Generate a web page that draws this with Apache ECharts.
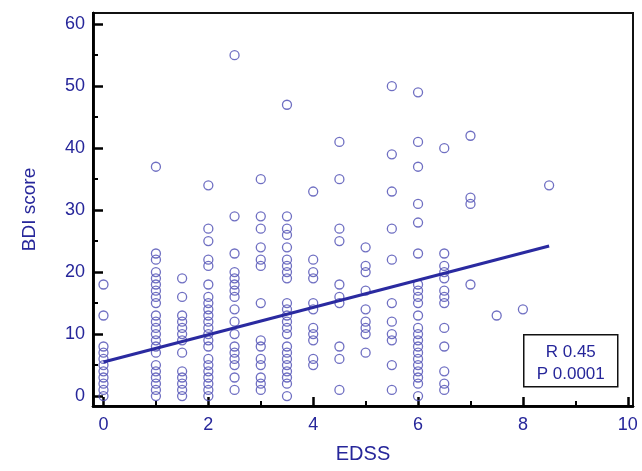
<!DOCTYPE html>
<html>
<head>
<meta charset="utf-8">
<script src="https://cdn.jsdelivr.net/npm/echarts@6/dist/echarts.min.js"></script>
<style>
  html, body { margin: 0; padding: 0; background: #fff; }
  #mainView { width: 642px; height: 471px; }
</style>
</head>
<body>
<div id="mainView"></div>
<script>
// BDI scores, grouped by EDSS step
var edssSteps = [0, 1, 1.5, 2, 2.5, 3, 3.5, 4, 4.5, 5, 5.5, 6, 6.5, 7, 7.5, 8, 8.5];
var bdiByStep = [
    [18, 13, 8, 7, 6, 5, 4, 3, 2, 1, 0],
    [37, 23, 22, 20, 19, 18, 17, 16, 15, 13, 12, 11, 10, 9, 8, 7, 5, 4, 3, 2, 1, 0],
    [19, 16, 13, 12, 11, 10, 9, 7, 4, 3, 2, 1, 0],
    [34, 27, 25, 22, 21, 18, 16, 15, 14, 13, 12, 11, 10, 9, 8, 6, 5, 4, 3, 2, 1, 0],
    [55, 29, 23, 20, 19, 18, 17, 16, 14, 12, 10, 8, 7, 6, 5, 3, 1],
    [35, 29, 27, 24, 22, 21, 15, 9, 8, 6, 5, 3, 2, 1],
    [47, 29, 27, 26, 24, 22, 21, 20, 19, 15, 14, 13, 12, 11, 10, 8, 7, 6, 5, 4, 3, 2, 0],
    [33, 22, 20, 19, 15, 14, 11, 10, 9, 6, 5],
    [41, 35, 27, 25, 18, 16, 15, 8, 6, 1],
    [24, 21, 20, 17, 14, 12, 11, 10, 7],
    [50, 39, 33, 27, 22, 15, 12, 10, 9, 5, 1],
    [49, 41, 37, 31, 28, 23, 18, 17, 16, 15, 13, 11, 10, 9, 8, 7, 6, 5, 4, 3, 2, 0],
    [40, 23, 21, 20, 19, 17, 16, 15, 11, 8, 4, 2, 1],
    [42, 32, 31, 18],
    [13],
    [14],
    [34]
];
// regression line end points
var fitEdss = [0, 8.5];
var fitBdi = [5.5, 24.2];

var xLabels = [0, 2, 4, 6, 8, 10];
var xMinor = [1, 3, 5, 7, 9];
var yLabels = [0, 10, 20, 30, 40, 50, 60];
var yMinor = [5, 15, 25, 35, 45, 55];

var textBlue = '#26269a';
var font = 'Liberation Sans, Arial, sans-serif';

function showMainView() {
    var points = [];
    for (var i = 0; i < edssSteps.length; i++) {
        for (var j = 0; j < bdiByStep[i].length; j++) {
            points.push([edssSteps[i], bdiByStep[i][j]]);
        }
    }
    var fitLine = [];
    for (var k = 0; k < fitEdss.length; k++) {
        fitLine.push([fitEdss[k], fitBdi[k]]);
    }

    var plotBox = { left: 93, right: 9, top: 13, bottom: 65 };

    var chart = echarts.init(document.getElementById('mainView'));
    chart.setOption({
        animation: false,
        grid: [
            {
                left: plotBox.left, right: plotBox.right, top: plotBox.top, bottom: plotBox.bottom,
                show: true,
                borderColor: '#111',
                borderWidth: 2
            },
            // second grid, same box, only carries the short minor ticks
            { left: plotBox.left, right: plotBox.right, top: plotBox.top, bottom: plotBox.bottom }
        ],
        xAxis: [
            {
                type: 'value',
                min: -0.2, max: 10.1,
                name: 'EDSS',
                nameLocation: 'middle',
                nameGap: 38,
                nameTextStyle: { color: textBlue, fontSize: 20, fontFamily: font },
                axisLine: { onZero: false, lineStyle: { color: '#000', width: 2.5 } },
                axisTick: { show: true, inside: true, length: 9, lineStyle: { color: '#000', width: 2.5 }, customValues: xLabels },
                axisLabel: { color: textBlue, fontSize: 18, fontFamily: font, margin: 10, customValues: xLabels },
                splitLine: { show: false }
            },
            {
                type: 'value',
                gridIndex: 1,
                min: -0.2, max: 10.1,
                axisLine: { onZero: false, lineStyle: { color: '#000', width: 2.5 } },
                axisTick: { show: true, inside: true, length: 5, lineStyle: { color: '#000', width: 2 }, customValues: xMinor },
                axisLabel: { show: false },
                splitLine: { show: false }
            }
        ],
        yAxis: [
            {
                type: 'value',
                min: -1.6, max: 61.8,
                name: 'BDI score',
                nameLocation: 'middle',
                nameGap: 54,
                nameTextStyle: { color: textBlue, fontSize: 19, fontFamily: font },
                axisLine: { onZero: false, lineStyle: { color: '#000', width: 2.5 } },
                axisTick: { show: true, inside: true, length: 10, lineStyle: { color: '#000', width: 2.5 }, customValues: yLabels },
                axisLabel: { color: textBlue, fontSize: 18, fontFamily: font, margin: 8, customValues: yLabels },
                splitLine: { show: false }
            },
            {
                type: 'value',
                gridIndex: 1,
                min: -1.6, max: 61.8,
                axisLine: { onZero: false, lineStyle: { color: '#000', width: 2.5 } },
                axisTick: { show: true, inside: true, length: 5, lineStyle: { color: '#000', width: 2 }, customValues: yMinor },
                axisLabel: { show: false },
                splitLine: { show: false }
            }
        ],
        series: [
            {
                type: 'scatter',
                data: points,
                symbol: 'circle',
                symbolSize: 9,
                itemStyle: {
                    color: 'rgba(0,0,0,0)',
                    borderColor: '#4b4bb3',
                    borderWidth: 1.3
                },
                silent: true
            },
            {
                type: 'line',
                data: fitLine,
                showSymbol: false,
                lineStyle: { color: '#2a2aa0', width: 3 },
                silent: true
            }
        ],
        graphic: [
            {
                type: 'group',
                left: 523,
                top: 334,
                children: [
                    {
                        type: 'rect',
                        shape: { x: 0, y: 0, width: 94, height: 52 },
                        style: { fill: '#fff', stroke: '#111', lineWidth: 1.5 }
                    },
                    {
                        type: 'text',
                        x: 47, y: 18,
                        style: { text: 'R 0.45', fill: textBlue, font: '17px ' + font, textAlign: 'center', textVerticalAlign: 'middle' }
                    },
                    {
                        type: 'text',
                        x: 47, y: 40,
                        style: { text: 'P 0.0001', fill: textBlue, font: '17px ' + font, textAlign: 'center', textVerticalAlign: 'middle' }
                    }
                ]
            }
        ]
    });
}
showMainView();
</script>
</body>
</html>
